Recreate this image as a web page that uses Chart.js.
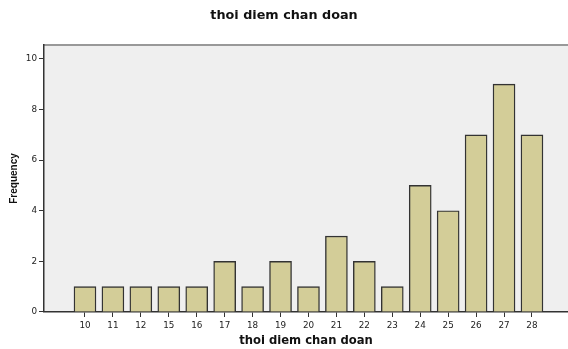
<!DOCTYPE html>
<html>
<head>
<meta charset="utf-8">
<script src="https://cdn.jsdelivr.net/npm/chart.js@4"></script>
<style>
  html, body { margin: 0; padding: 0; background: #fff; }
  #wrap { width: 568px; height: 349px; }
</style>
</head>
<body>
<div id="wrap"><canvas id="chart" width="568" height="349"></canvas></div>
<script>
const categories = ['10', '11', '12', '15', '16', '17', '18', '19', '20', '21', '22', '23', '24', '25', '26', '27', '28'];
const frequency = [1, 1, 1, 1, 1, 2, 1, 2, 1, 3, 2, 1, 5, 4, 7, 9, 7];
const yTicks = [0, 2, 4, 6, 8, 10];

// grey plot background plus the light frame line along the top
const plotBackground = {
  id: 'plotBackground',
  beforeDraw(chart) {
    const { ctx, chartArea: a } = chart;
    ctx.save();
    ctx.fillStyle = '#efefef';
    ctx.fillRect(a.left, a.top, a.right - a.left, a.bottom - a.top);
    ctx.strokeStyle = '#999';
    ctx.lineWidth = 2;
    ctx.beginPath();
    ctx.moveTo(a.left, a.top);
    ctx.lineTo(a.right, a.top);
    ctx.stroke();
    ctx.restore();
  }
};

Chart.defaults.font.family = '"DejaVu Sans", Verdana, sans-serif';
Chart.defaults.color = '#222';

new Chart(document.getElementById('chart'), {
  type: 'bar',
  data: {
    datasets: [{
      label: 'Frequency',
      data: frequency.map((v, i) => ({ x: i, y: v })),
      backgroundColor: '#d3cd98',
      borderColor: '#333',
      borderWidth: 1.4,
      barThickness: 22
    }]
  },
  options: {
    responsive: false,
    animation: false,
    plugins: {
      legend: { display: false },
      tooltip: { enabled: false },
      title: {
        display: true,
        text: 'thoi diem chan doan',
        font: { size: 12.8, weight: 'bold' },
        color: '#111',
        padding: { top: 8, bottom: 21.6 }
      }
    },
    scales: {
      x: {
        type: 'linear',
        offset: false,
        min: -1.467,
        max: 17.29,
        afterBuildTicks: s => { s.ticks = categories.map((c, i) => ({ value: i })); },
        afterFit: s => { s.height = 37; },
        ticks: {
          callback: v => categories[v],
          autoSkip: false,
          maxRotation: 0,
          font: { size: 8.8 },
          padding: 3,
          color: '#222'
        },
        grid: { offset: false, drawOnChartArea: false, tickLength: 5, tickColor: '#333', tickWidth: 1 },
        border: { color: '#333', width: 1.5 },
        title: {
          display: true,
          text: 'thoi diem chan doan',
          font: { size: 11.6, weight: 'bold' },
          color: '#111',
          padding: { top: 0, bottom: 1 }
        }
      },
      y: {
        min: 0,
        max: 10.55,
        afterBuildTicks: s => { s.ticks = yTicks.map(v => ({ value: v })); },
        afterFit: s => { s.width = 44; },
        ticks: { font: { size: 8.8 }, padding: 2, color: '#222' },
        grid: { drawOnChartArea: false, tickLength: 5, tickColor: '#333', tickWidth: 1 },
        border: { color: '#333', width: 1.5 },
        title: {
          display: true,
          text: 'Frequency',
          font: { family: '"Liberation Sans", Arial, sans-serif', size: 10, weight: 'bold' },
          color: '#111',
          padding: { top: 8, bottom: 0 }
        }
      }
    }
  },
  plugins: [plotBackground]
});
</script>
</body>
</html>
